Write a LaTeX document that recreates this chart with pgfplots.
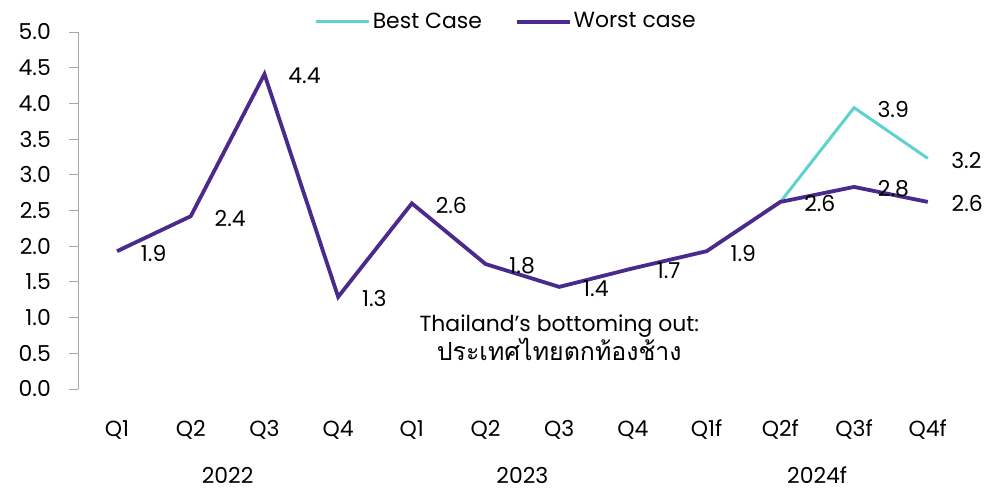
\documentclass[border=0pt]{standalone}
\usepackage{fontspec}
\setmainfont{Poppins}
\newfontfamily\thaifont[Script=Thai]{Loma}
\usepackage{pgfplots}
\pgfplotsset{compat=1.18}
\definecolor{bestc}{HTML}{5ED3CD}
\definecolor{worstc}{HTML}{4B2A8E}
\definecolor{axgray}{HTML}{A6A6A6}
\newcommand{\chartfont}{\fontsize{22}{26}\selectfont}

\begin{document}
\chartfont
\begin{tikzpicture}[x=1bp,y=1bp]
\useasboundingbox (0,0) rectangle (989,489);
\begin{axis}[
  at={(78bp,100bp)}, anchor=south west,
  scale only axis, width=886.6bp, height=357bp,
  xmin=-0.53, xmax=11.5, ymin=0, ymax=5,
  clip=false,
  axis lines*=left,
  x axis line style={draw=none},
  y axis line style={axgray, line width=0.8bp},
  tick align=outside, major tick length=9bp,
  tick style={axgray, line width=0.8bp},
  xtick style={draw=none},
  xtick={0,...,11},
  xticklabels={Q1,Q2,Q3,Q4,Q1,Q2,Q3,Q4,Q1f,Q2f,Q3f,Q4f},
  xticklabel style={anchor=base, inner sep=0pt, yshift=-39bp},
  ytick={0,0.5,...,5},
  yticklabel style={anchor=east, inner sep=0pt, xshift=-18bp, /pgf/number format/.cd, fixed, fixed zerofill, precision=1},
  tick label style={font=\chartfont},
  /pgf/number format/assume math mode=true,
  legend style={at={(axis description cs:0.483,1.028)}, anchor=center,
    draw=none, fill=none, legend columns=2, inner sep=0pt, font=\chartfont,
    /tikz/every even column/.append style={column sep=31bp}},
  legend image code/.code={\draw[#1] (0bp,0bp) -- (53bp,0bp);},
  point meta=explicit symbolic,
  nodes near coords,
  every node near coord/.append style={anchor=west, inner sep=0pt, xshift=22bp, yshift=-2bp, text=black, font=\chartfont},
]
\addplot[bestc, line width=3bp] coordinates {
  (9,2.62) [] (10,3.94) [3.9] (11,3.23) [3.2]
};
\addlegendentry{Best Case}
\addplot[worstc, line width=3.8bp] coordinates {
  (0,1.93) [1.9] (1,2.42) [2.4] (2,4.41) [4.4] (3,1.29) [1.3]
  (4,2.60) [2.6] (5,1.75) [1.8] (6,1.43) [1.4] (7,1.69) [1.7]
  (8,1.93) [1.9] (9,2.62) [2.6] (10,2.83) [2.8] (11,2.62) [2.6]
};
\addlegendentry{Worst case}
\node[anchor=base, inner sep=0pt, yshift=-95bp] at (axis cs:1.5,0) {2022};
\node[anchor=base, inner sep=0pt, yshift=-95bp] at (axis cs:5.5,0) {2023};
\node[anchor=base, inner sep=0pt, yshift=-95bp] at (axis cs:9.5,0) {2024f};
\node[anchor=base] at (axis cs:6,0.812) {Thailand’s bottoming out:};
\node[anchor=base] at (axis cs:6,0.406) {\fontsize{25}{28}\selectfont\thaifont ประเทศไทยตกท้องช้าง};
\end{axis}
\end{tikzpicture}
\end{document}
